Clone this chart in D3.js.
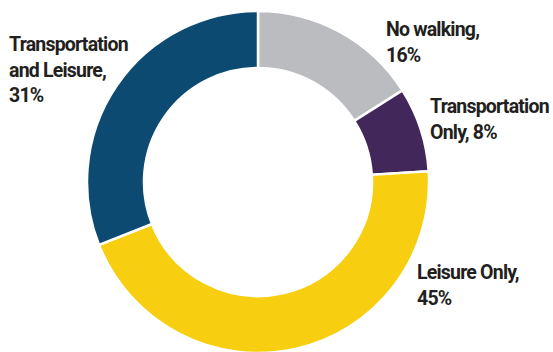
<!DOCTYPE html>
<html>
<head>
<meta charset="utf-8">
<script src="https://cdn.jsdelivr.net/npm/d3@7"></script>
<style>
  html, body { margin: 0; padding: 0; background: #fff; }
  svg { display: block; }
  .lbl { font-family: Roboto, "Noto Sans", sans-serif; font-weight: 700; fill: #231f20; }
</style>
</head>
<body>
<div id="chart"></div>
<script>
// data, clockwise from 12 o'clock
var categories = ["No walking", "Transportation Only", "Leisure Only", "Transportation and Leisure"];
var shares = [16, 8, 45, 31];
var colours = ["#bbbcbf", "#42275a", "#f7ce10", "#0d4a72"];
// label text lines for each slice
var labelLines = [
  ["No walking,", "16%"],
  ["Transportation", "Only, 8%"],
  ["Leisure Only,", "45%"],
  ["Transportation", "and Leisure,", "31%"]
];

var width = 553, height = 352;
var cx = 258, cy = 182;
var outerR = 171, innerR = 114;

var svg = d3.select("#chart").append("svg")
  .attr("width", width)
  .attr("height", height);

var g = svg.append("g")
  .attr("transform", "translate(" + cx + "," + cy + ")");

var pie = d3.pie().sort(null).value(function(d) { return d; });
var arc = d3.arc().innerRadius(innerR).outerRadius(outerR);

var arcs = pie(shares);

g.selectAll("path.slice")
  .data(arcs)
  .enter().append("path")
  .attr("class", "slice")
  .attr("d", arc)
  .attr("fill", function(d, i) { return colours[i]; })
  .attr("stroke", "#fff")
  .attr("stroke-width", 2.5);

// label anchors (left edge of text, first baseline), placed by hand next to each slice
var labelPos = [
  {x: 386, y: 36},
  {x: 430, y: 113},
  {x: 417, y: 279},
  {x: 9, y: 51}
];
var lineHeight = 25.5;

var labels = svg.selectAll("text.lbl")
  .data(arcs)
  .enter().append("text")
  .attr("class", "lbl")
  .attr("font-size", 19.5)
  .attr("letter-spacing", -0.8)
  .attr("x", function(d, i) { return labelPos[i].x; })
  .attr("y", function(d, i) { return labelPos[i].y; });

labels.each(function(d, i) {
  var t = d3.select(this);
  labelLines[i].forEach(function(line, j) {
    t.append("tspan")
      .attr("x", labelPos[i].x)
      .attr("dy", j === 0 ? 0 : lineHeight)
      .text(line);
  });
});
</script>
</body>
</html>
